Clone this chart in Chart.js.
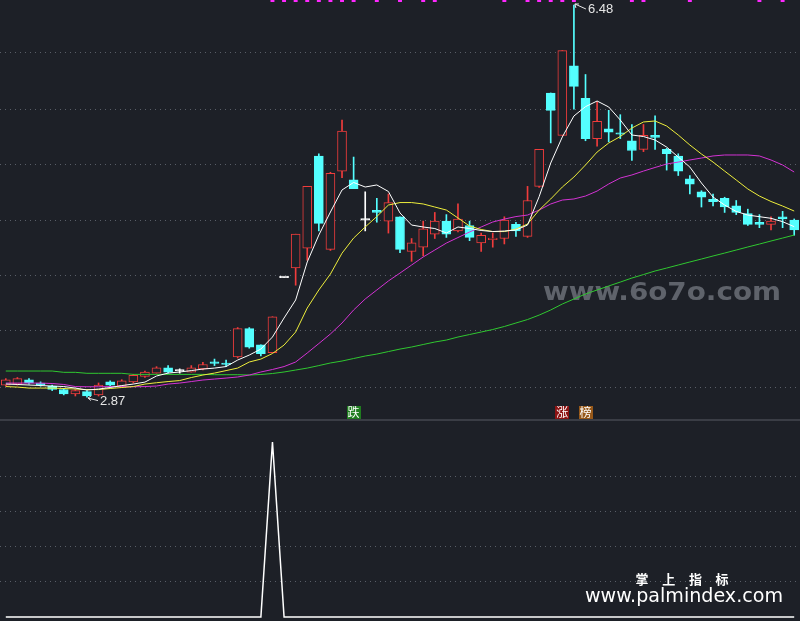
<!DOCTYPE html>
<html lang="zh-CN">
<head>
<meta charset="utf-8">
<title>K线</title>
<script src="https://cdn.jsdelivr.net/npm/chart.js@4.4.1/dist/chart.umd.min.js"></script>
<style>
  html, body { margin: 0; padding: 0; background: #1d2027; overflow: hidden; }
  #stage { position: relative; width: 800px; height: 621px; background: #1d2027; }
  #kline { position: absolute; left: 0; top: 0; }
  #divider { position: absolute; left: 0; top: 419px; width: 800px; height: 2px; background: #3a3d45; }
  #ind { position: absolute; left: 0; top: 421px; }
</style>
</head>
<body>
<div id="stage">
  <canvas id="kline" width="800" height="420"></canvas>
  <div id="divider"></div>
  <canvas id="ind" width="800" height="200"></canvas>
</div>
<script>
// ---- daily prices ----
const openPx = [2.98,2.99,3.03,3.00,2.97,2.94,2.90,2.92,2.89,3.01,2.97,3.01,3.06,3.09,3.14,3.11,3.10,3.13,3.19,3.18,
  3.24,3.50,3.35,3.28,3.97,4.06,4.24,5.09,4.23,4.95,
  4.87,4.50,4.59,4.49,4.53,4.21,4.25,4.37,4.49,4.40,
  4.45,4.29,4.32,4.33,4.46,4.35,4.81,5.67,5.28,5.92,
  5.62,5.25,5.34,5.30,5.23,5.15,5.28,5.15,5.09,4.88,
  4.76,4.69,4.70,4.63,4.56,4.48,4.46,4.53,4.50];
const highPx = [3.04,3.05,3.04,3.01,2.98,2.95,2.94,2.93,3.00,3.02,3.03,3.08,3.11,3.15,3.16,3.13,3.16,3.19,3.22,3.21,
  3.51,3.51,3.35,3.61,3.97,4.37,4.81,5.11,4.94,5.42,
  5.08,4.76,4.70,4.74,4.53,4.33,4.49,4.57,4.55,4.65,
  4.49,4.38,4.38,4.53,4.48,4.81,5.15,5.67,6.06,6.48,
  5.84,5.59,5.51,5.47,5.38,5.38,5.46,5.16,5.11,4.91,
  4.77,4.74,4.71,4.68,4.60,4.55,4.53,4.58,4.51];
const lowPx = [2.97,2.98,2.99,2.97,2.93,2.89,2.88,2.87,2.88,2.97,2.96,3.00,3.05,3.09,3.09,3.09,3.10,3.12,3.16,3.15,
  3.23,3.32,3.25,3.28,3.97,3.90,4.13,4.40,4.22,4.89,
  4.79,4.40,4.48,4.38,4.20,4.12,4.17,4.33,4.34,4.39,
  4.31,4.21,4.25,4.28,4.35,4.34,4.80,5.21,5.28,5.52,
  5.23,5.18,5.22,5.25,5.05,5.13,5.15,4.96,4.91,4.74,
  4.62,4.63,4.57,4.55,4.45,4.43,4.41,4.43,4.36];
const closePx = [3.03,3.04,3.00,2.98,2.94,2.90,2.93,2.88,2.98,2.98,3.02,3.07,3.10,3.14,3.10,3.11,3.14,3.17,3.18,3.17,
  3.50,3.33,3.27,3.61,3.97,4.37,4.81,4.47,4.93,5.32,
  4.79,4.50,4.57,4.66,4.23,4.29,4.42,4.49,4.37,4.51,
  4.34,4.36,4.33,4.50,4.40,4.68,5.15,5.51,6.06,5.73,
  5.25,5.41,5.31,5.29,5.14,5.28,5.26,5.11,4.95,4.83,
  4.71,4.67,4.62,4.57,4.46,4.46,4.49,4.51,4.41];

// ---- moving averages ----
const ma5 = [2.990,2.986,2.981,2.976,2.972,2.967,2.953,2.935,2.944,2.958,
  2.976,2.990,3.008,3.064,3.091,3.101,3.114,3.128,3.137,3.151,
  3.211,3.257,3.312,3.423,3.598,3.764,4.114,4.362,4.574,4.777,
  4.846,4.804,4.823,4.763,4.565,4.454,4.436,4.422,4.381,4.436,
  4.422,4.404,4.394,4.399,4.408,4.454,4.715,5.025,5.265,5.458,
  5.544,5.596,5.541,5.421,5.283,5.269,5.237,5.172,5.080,4.988,
  4.841,4.712,4.638,4.579,4.546,4.531,4.516,4.485,4.439];
const ma10 = [2.967,2.962,2.953,2.953,2.953,2.949,2.944,2.939,2.939,2.949,
  2.958,2.967,2.990,3.002,3.013,3.022,3.050,3.073,3.091,3.114,
  3.137,3.193,3.220,3.271,3.349,3.469,3.690,3.856,4.003,4.195,
  4.334,4.436,4.532,4.638,4.661,4.661,4.648,4.620,4.592,4.519,
  4.445,4.413,4.394,4.394,4.417,4.463,4.592,4.694,4.804,4.896,
  5.007,5.126,5.209,5.269,5.347,5.403,5.412,5.366,5.283,5.191,
  5.108,5.034,4.951,4.869,4.786,4.721,4.671,4.629,4.583];
const ma20 = [2.999,2.999,2.999,2.999,2.995,2.986,2.967,2.965,2.965,2.967,
  2.967,2.965,2.967,2.972,2.990,2.999,3.013,3.027,3.036,3.045,
  3.055,3.073,3.101,3.124,3.151,3.193,3.276,3.363,3.451,3.552,
  3.672,3.773,3.856,3.939,4.012,4.086,4.160,4.224,4.288,4.339,
  4.390,4.436,4.482,4.509,4.532,4.546,4.592,4.648,4.684,4.694,
  4.721,4.767,4.832,4.887,4.915,4.951,4.984,5.016,5.034,5.053,
  5.071,5.090,5.099,5.099,5.099,5.090,5.053,5.007,4.942];
const ma60 = [3.110,3.110,3.110,3.110,3.110,3.098,3.098,3.089,3.089,3.089,
  3.089,3.079,3.079,3.079,3.079,3.079,3.079,3.079,3.076,3.076,
  3.076,3.073,3.078,3.087,3.101,3.119,3.137,3.160,3.184,3.202,
  3.225,3.248,3.266,3.289,3.312,3.331,3.354,3.377,3.395,3.423,
  3.446,3.469,3.492,3.520,3.552,3.584,3.625,3.672,3.727,3.773,
  3.819,3.856,3.893,3.929,3.966,3.998,4.031,4.058,4.086,4.114,
  4.141,4.169,4.196,4.224,4.252,4.279,4.307,4.334,4.362];

// ---- signals and markers ----
const signalDays = [23,24,25,26,27,28,29,30,32,34,36,37,43,45,46,47,48,49,54,55,59,65,67];
const markDays = [30, 48, 50];
const markText = ['跌', '涨', '榜'];
const markColor = ['#1f7d1f', '#8c1313', '#965819'];

// ---- lower indicator ----
const spike = [0,0,0,0,0,0,0,0,0,0,0,0,0,0,0,0,0,0,0,0,
  0,0,0,1,0,0,0,0,0,0,
  0,0,0,0,0,0,0,0,0,0,
  0,0,0,0,0,0,0,0,0,0,
  0,0,0,0,0,0,0,0,0,0,
  0,0,0,0,0,0,0,0,0];

// ---- axis ranges and grid levels ----
const PRICE_MIN = 2.659, PRICE_MAX = 6.526;
const priceGrid = [6.04, 5.52, 5.01, 4.50, 3.99, 3.48, 2.96];
const SPIKE_MIN = -0.0229, SPIKE_MAX = 1.12;
const spikeGrid = [0.2, 0.4, 0.6, 0.8];

const BG = '#1d2027', UP = '#f03c3c', DOWN = '#54ffff', FLAT = '#ffffff';
const GRID = 'rgba(110,115,125,0.75)';

const days = openPx.map((_, i) => String(i + 1));
const tone = openPx.map((o, i) => closePx[i] > o ? UP : (closePx[i] < o ? DOWN : FLAT));
const bodyFill = tone.map(c => c === UP ? BG : c);
const bodies = openPx.map((o, i) => [o, closePx[i]]);
const wicks = lowPx.map((l, i) => [l, highPx[i]]);
const signal = days.map((_, i) => signalDays.includes(i) ? PRICE_MAX : null);

const baseOpts = {
  responsive: false,
  animation: false,
  devicePixelRatio: 1,
  events: [],
  layout: { padding: 0, autoPadding: false },
  plugins: { legend: { display: false }, tooltip: { enabled: false } }
};

function fitText(ctx, text, x, y, width) {
  const w = ctx.measureText(text).width;
  ctx.save();
  ctx.translate(x, y);
  ctx.scale(width / w, 1);
  ctx.fillText(text, 0, 0);
  ctx.restore();
}

const klineDecor = {
  id: 'klineDecor',
  beforeDatasetsDraw(chart) {
    const ctx = chart.ctx;
    ctx.save();
    ctx.fillStyle = '#5f636b';
    ctx.font = 'bold 25px "DejaVu Sans"';
    ctx.textBaseline = 'alphabetic';
    fitText(ctx, 'www.6o7o.com', 543, 300, 238);
    ctx.restore();
  },
  afterDatasetsDraw(chart) {
    const ctx = chart.ctx, xs = chart.scales.x, ys = chart.scales.y;
    ctx.save();
    ctx.strokeStyle = '#e6e6e6';
    ctx.fillStyle = '#e6e6e6';
    ctx.lineWidth = 1;
    ctx.font = '13px "Liberation Sans"';
    ctx.textBaseline = 'middle';
    ctx.textAlign = 'left';

    // highest high
    const hi = highPx.indexOf(Math.max(...highPx));
    let x = xs.getPixelForValue(hi), y = ys.getPixelForValue(highPx[hi]);
    ctx.beginPath();
    ctx.moveTo(x + 12, y + 4); ctx.lineTo(x + 1, y - 1);
    ctx.moveTo(x + 1, y - 1); ctx.lineTo(x + 5, y - 1);
    ctx.moveTo(x + 1, y - 1); ctx.lineTo(x + 2, y + 3);
    ctx.stroke();
    ctx.fillText(highPx[hi].toFixed(2), x + 14, y + 4);

    // lowest low
    const lo = lowPx.indexOf(Math.min(...lowPx));
    x = xs.getPixelForValue(lo); y = ys.getPixelForValue(lowPx[lo]);
    ctx.beginPath();
    ctx.moveTo(x + 11, y + 3.5); ctx.lineTo(x + 1, y + 1);
    ctx.moveTo(x + 1, y + 1); ctx.lineTo(x + 4, y - 1);
    ctx.moveTo(x + 1, y + 1); ctx.lineTo(x + 4, y + 3.5);
    ctx.stroke();
    ctx.fillText(lowPx[lo].toFixed(2), x + 13, y + 4);

    // event markers along the bottom edge
    const bottom = chart.chartArea.bottom;
    ctx.font = '12px "Noto Sans CJK SC"';
    ctx.textAlign = 'center';
    markDays.forEach((d, k) => {
      const cx = xs.getPixelForValue(d);
      ctx.fillStyle = markColor[k];
      ctx.fillRect(Math.round(cx - 7), bottom - 14, 14, 13);
      ctx.fillStyle = '#ffffff';
      ctx.fillText(markText[k], cx, bottom - 7.5);
    });
    ctx.restore();
  }
};

new Chart(document.getElementById('kline'), {
  type: 'bar',
  data: {
    labels: days,
    datasets: [
      { type: 'line', label: 'MA5', data: ma5, borderColor: '#ffffff', borderWidth: 1, pointRadius: 0, order: 0 },
      { type: 'line', label: 'MA10', data: ma10, borderColor: '#eeee3c', borderWidth: 1, pointRadius: 0, order: 0 },
      { type: 'line', label: 'MA20', data: ma20, borderColor: '#d433d4', borderWidth: 1, pointRadius: 0, order: 0 },
      { type: 'line', label: 'MA60', data: ma60, borderColor: '#30c830', borderWidth: 1, pointRadius: 0, order: 0 },
      { type: 'line', label: 'signal', data: signal, showLine: false, pointStyle: 'rect', pointRadius: 2.8,
        pointBorderWidth: 0, pointBackgroundColor: '#ff28ff', clip: false, order: 0 },
      { label: 'body', data: bodies, backgroundColor: bodyFill, borderColor: tone, borderWidth: 1,
        borderSkipped: false, barThickness: 9, minBarLength: 1.5, grouped: false, order: 1 },
      { label: 'wick', data: wicks, backgroundColor: tone, borderWidth: 0,
        barThickness: 1, grouped: false, order: 2 }
    ]
  },
  options: Object.assign({}, baseOpts, {
    scales: {
      x: { type: 'category', offset: true, display: false },
      y: {
        min: PRICE_MIN, max: PRICE_MAX,
        ticks: { display: false },
        grid: { color: GRID, drawTicks: false, lineWidth: 1 },
        border: { display: false, dash: [1, 4] },
        afterBuildTicks: s => { s.ticks = priceGrid.map(v => ({ value: v })); }
      }
    }
  }),
  plugins: [klineDecor]
});

const indDecor = {
  id: 'indDecor',
  afterDatasetsDraw(chart) {
    const ctx = chart.ctx;
    ctx.save();
    ctx.fillStyle = '#ffffff';
    ctx.textBaseline = 'middle';
    ctx.textAlign = 'center';
    ctx.font = 'bold 13px "Noto Sans CJK SC"';
    ['掌', '上', '指', '标'].forEach((ch, k) => ctx.fillText(ch, 642 + k * 26.7, 158));
    ctx.textAlign = 'left';
    ctx.textBaseline = 'alphabetic';
    ctx.font = '19px "DejaVu Sans"';
    fitText(ctx, 'www.palmindex.com', 585, 181, 198);
    ctx.restore();
  }
};

new Chart(document.getElementById('ind'), {
  type: 'line',
  data: {
    labels: days,
    datasets: [{ label: 'signal', data: spike, borderColor: '#ffffff', borderWidth: 1.5, pointRadius: 0 }]
  },
  options: Object.assign({}, baseOpts, {
    scales: {
      x: { type: 'category', offset: true, display: false },
      y: {
        min: SPIKE_MIN, max: SPIKE_MAX,
        ticks: { display: false },
        grid: { color: GRID, drawTicks: false, lineWidth: 1 },
        border: { display: false, dash: [1, 4] },
        afterBuildTicks: s => { s.ticks = spikeGrid.map(v => ({ value: v })); }
      }
    }
  }),
  plugins: [indDecor]
});
</script>
</body>
</html>
